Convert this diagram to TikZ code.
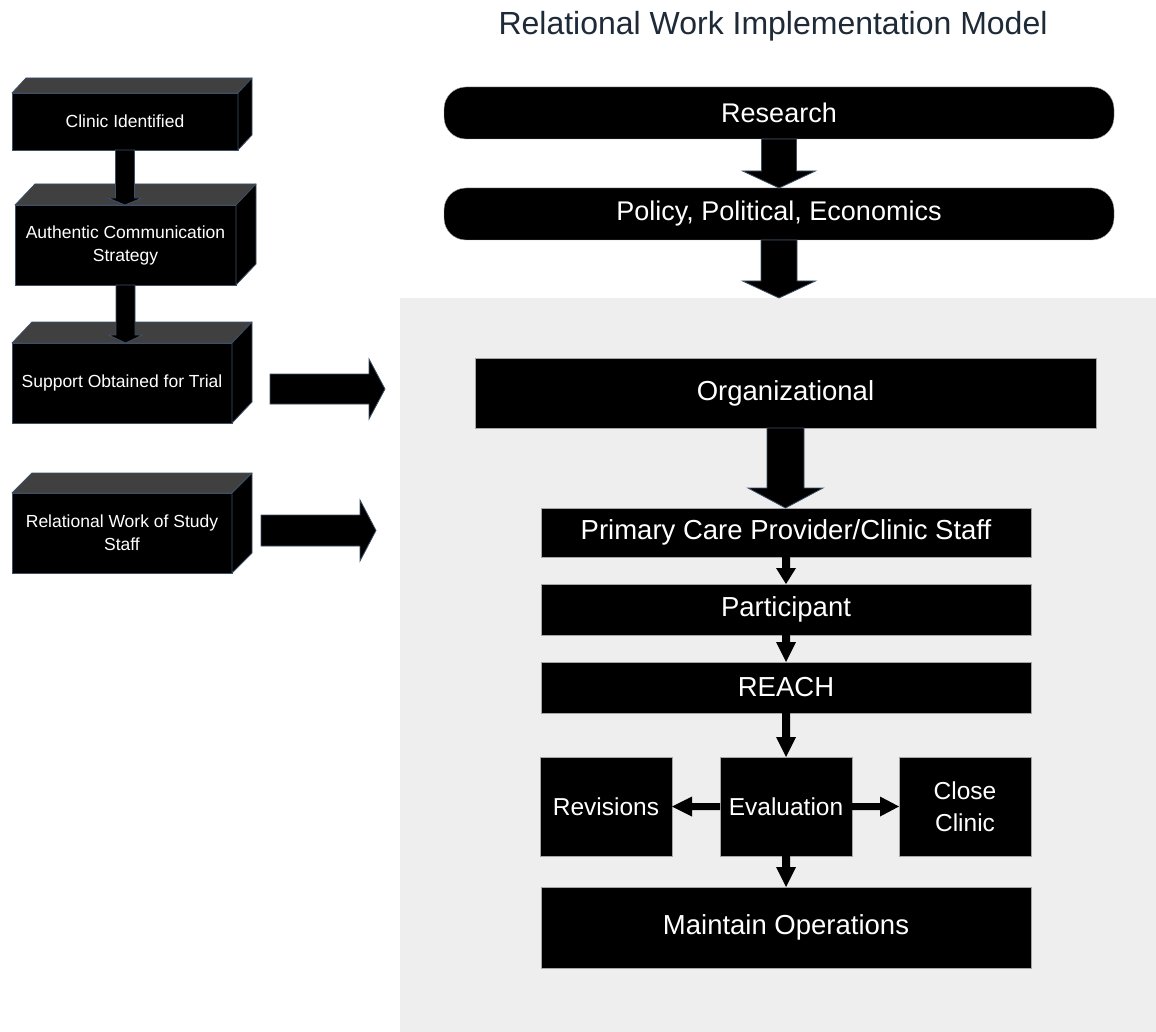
\documentclass[tikz,border=0pt]{standalone}
\usepackage{fontspec}
\setmainfont{Liberation Sans}
\usetikzlibrary{calc}
\definecolor{edgecol}{HTML}{3E5068}
\definecolor{topcol}{HTML}{404040}
\definecolor{bgcol}{HTML}{EEEEEE}
\definecolor{titlecol}{HTML}{1E2A38}
\tikzset{
  frontbox/.style={fill=black, draw=edgecol, line width=0.8pt, text=white, align=center,
    inner sep=0pt, outer sep=0pt, font=\fontsize{17.5}{23}\selectfont},
  facebox/.style={draw=edgecol, line width=0.8pt, line join=round},
  pill/.style={fill=black, draw=gray!70, line width=0.4pt, rounded corners=22pt, text=white,
    inner sep=0pt, outer sep=0pt, font=\fontsize{27}{32}\selectfont},
  mainbox/.style={fill=black, draw=gray!70, line width=0.4pt, text=white, align=center,
    inner sep=0pt, outer sep=0pt, font=\fontsize{27.5}{32}\selectfont},
  smallbox/.style={mainbox, minimum width=132, minimum height=99, font=\fontsize{24.5}{32}\selectfont},
  bigarrow/.style={fill=black, draw=edgecol, line width=0.8pt, line join=miter},
  smallarrow/.style={fill=black, draw=none},
}
% vertical block arrow: from, to, shaft half, head half, head length, style
\newcommand\vblock[6]{%
  \path[#6] let \p1=(#1.south), \p2=(#2.north) in
    (\x1-#3pt,\y1) -- (\x1+#3pt,\y1) -- (\x1+#3pt,\y2+#5pt) -- (\x1+#4pt,\y2+#5pt)
    -- (\x1,\y2) -- (\x1-#4pt,\y2+#5pt) -- (\x1-#3pt,\y2+#5pt) -- cycle;}
% horizontal block arrow to the right
\newcommand\hblock[6]{%
  \path[#6] let \p1=(#1), \p2=(#2) in
    (\x1,\y1+#3pt) -- (\x2-#5pt,\y1+#3pt) -- (\x2-#5pt,\y1+#4pt) -- (\x2,\y1)
    -- (\x2-#5pt,\y1-#4pt) -- (\x2-#5pt,\y1-#3pt) -- (\x1,\y1-#3pt) -- cycle;}
% horizontal block arrow to the left
\newcommand\hblockl[6]{%
  \path[#6] let \p1=(#1), \p2=(#2) in
    (\x1,\y1+#3pt) -- (\x2+#5pt,\y1+#3pt) -- (\x2+#5pt,\y1+#4pt) -- (\x2,\y1)
    -- (\x2+#5pt,\y1-#4pt) -- (\x2+#5pt,\y1-#3pt) -- (\x1,\y1-#3pt) -- cycle;}
% 3D box faces: node name, dx, dy
\newcommand\boxfaces[3]{%
  \filldraw[facebox, fill=topcol] (#1.north west) -- ++(#2,-#3) -- ([shift={(#2,-#3)}]#1.north east) -- (#1.north east) -- cycle;
  \filldraw[facebox, fill=black] (#1.north east) -- ++(#2,-#3) -- ([shift={(#2,-#3)}]#1.south east) -- (#1.south east) -- cycle;}
\begin{document}
\begin{tikzpicture}[x=1pt,y=-1pt]
\useasboundingbox (0,0) rectangle (1156,1032);
\fill[white] (0,0) rectangle (1156,1032);
\node[fill=bgcol, inner sep=0pt, outer sep=0pt, minimum width=756, minimum height=734, anchor=north west] (bg) at (400,298) {};

\node[text=titlecol, font=\fontsize{32}{38}\selectfont] (title) at (773,26) {Relational Work Implementation Model};

% main stack
\node[pill, minimum width=670, minimum height=52] (res) at (779,113) {Research};
\node[pill, minimum width=670, minimum height=52] (pol) at (779,214) {Policy, Political, Economics};
\node[mainbox, minimum width=621, minimum height=70] (org) at (785.5,393) {Organizational};
\node[mainbox, minimum width=490, minimum height=49] (pcp) at (786,532.5) {Primary Care Provider/Clinic Staff};
\node[mainbox, minimum width=490, minimum height=51] (par) at (786,609.5) {Participant};
\node[mainbox, minimum width=490, minimum height=51] (reach) at (786,687.5) {REACH};
\node[smallbox] (rev) at (606,806.5) {Revisions};
\node[smallbox] (eval) at (786,806.5) {Evaluation};
\node[smallbox] (close) at (965,806.5) {Close\\Clinic};
\node[mainbox, minimum width=490, minimum height=81] (maint) at (786,927.5) {Maintain Operations};

\vblock{res}{pol}{17.5}{36.5}{17}{bigarrow}
\vblock{pol}{bg}{18}{36.5}{17}{bigarrow}
\vblock{org}{pcp}{18.5}{37.5}{20}{bigarrow}
\vblock{pcp}{par}{4}{10}{16}{smallarrow}
\vblock{par}{reach}{4}{10}{20}{smallarrow}
\vblock{reach}{eval}{4}{10}{20}{smallarrow}
\vblock{eval}{maint}{4}{10}{20}{smallarrow}
\hblockl{eval.west}{rev.east}{3.5}{10}{20}{smallarrow}
\hblock{eval.east}{close.west}{3.5}{10}{19}{smallarrow}

% left column of 3D boxes
\node[frontbox, minimum width=226, minimum height=57] (c1) at (125,121.5) {Clinic Identified};
\boxfaces{c1}{14}{15}
\node[frontbox, minimum width=221, minimum height=80] (c2) at (125.5,245) {Authentic Communication\\Strategy};
\boxfaces{c2}{20}{21}
\node[frontbox, minimum width=220, minimum height=80] (c3) at (122,383) {Support Obtained for Trial};
\boxfaces{c3}{20}{21}
\node[frontbox, minimum width=220, minimum height=80] (c4) at (122,533) {Relational Work of Study\\Staff};
\boxfaces{c4}{20}{20}

\vblock{c1}{c2}{9.5}{17}{7}{bigarrow}
\vblock{c2}{c3}{9.5}{17}{8}{bigarrow}

\coordinate (a1s) at (270,389);
\coordinate (a1e) at (385,389);
\coordinate (a2s) at (261,530.5);
\coordinate (a2e) at (376,530.5);
\hblock{a1s}{a1e}{15}{30}{16}{bigarrow}
\hblock{a2s}{a2e}{15.5}{30.5}{16}{bigarrow}
\end{tikzpicture}
\end{document}
